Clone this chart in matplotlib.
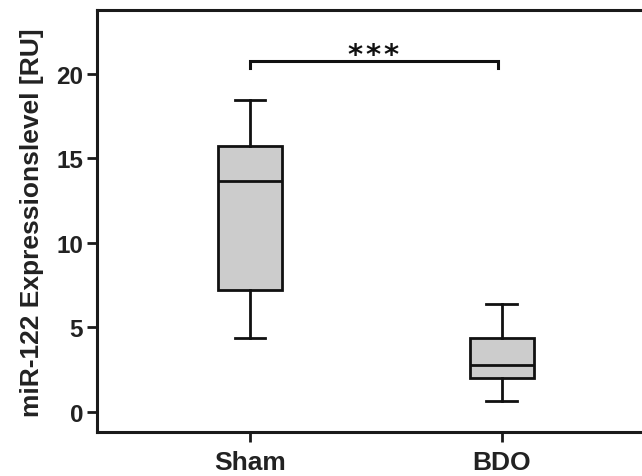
import matplotlib.pyplot as plt

plt.rcParams['font.family'] = ['Liberation Sans', 'DejaVu Sans']

groups = ["Sham", "BDO"]
whisker_low = [4.37, 0.62]
q1 = [7.19, 2.0]
median = [13.62, 2.75]
q3 = [15.71, 4.33]
whisker_high = [18.43, 6.36]
sig_label = "*\u200a*\u200a*"
y_ticks = [0, 5, 10, 15, 20]

stats = []
for i, g in enumerate(groups):
    stats.append({"label": g, "whislo": whisker_low[i], "q1": q1[i], "med": median[i],
                  "q3": q3[i], "whishi": whisker_high[i], "fliers": []})

fig = plt.figure(figsize=(6.42, 4.77), dpi=100)
ax = fig.add_axes([0.151, 0.0916, 0.849, 0.885])

ax.bxp(stats, positions=[1, 2], widths=0.254, patch_artist=True, showfliers=False,
       capwidths=0.123,
       boxprops=dict(facecolor="#cccccc", edgecolor="#111111", linewidth=2.0),
       medianprops=dict(color="#111111", linewidth=2.0),
       whiskerprops=dict(color="#111111", linewidth=2.0),
       capprops=dict(color="#111111", linewidth=2.0))

# significance bracket
x1, x2 = 1, 1.985
y, h = 20.74, 0.4
ax.plot([x1, x1, x2, x2], [y - h, y, y, y - h], color="#111111", lw=2.2,
        solid_joinstyle="miter")
ax.text((x1 + x2) / 2, y - 0.48, sig_label, ha="center", va="bottom",
        fontsize=21, fontweight="bold", color="#111111", family="DejaVu Sans")

ax.set_xlim(0.392, 2.557)
ax.set_ylim(-1.23, 23.75)
ax.set_yticks(y_ticks)
ax.set_xticks([1, 2])
ax.set_xticklabels(groups)

for side in ["left", "bottom", "top"]:
    ax.spines[side].set_linewidth(2.2)
    ax.spines[side].set_color("#1a1a1a")
ax.spines["right"].set_visible(False)

ax.tick_params(axis="both", direction="out", length=7, width=2.0, color="#1a1a1a")
ax.tick_params(axis="y", labelsize=17.5, pad=3)
ax.tick_params(axis="x", labelsize=19, pad=6)
for lbl in ax.get_xticklabels() + ax.get_yticklabels():
    lbl.set_fontweight("bold")
    lbl.set_color("#222222")

ax.set_ylabel("miR-122 Expressionslevel [RU]", fontsize=19, fontweight="bold",
              color="#222222", labelpad=9)

fig.savefig("out.png", dpi=100)
